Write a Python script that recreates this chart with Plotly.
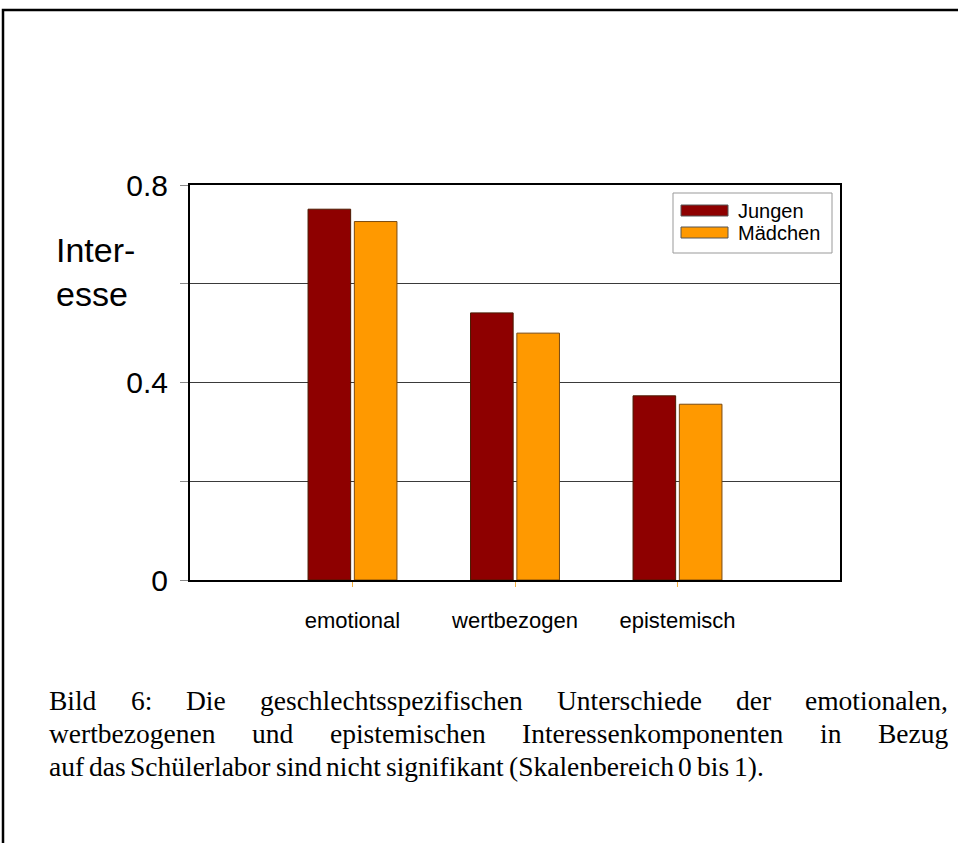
import plotly.graph_objects as go

categories = ["emotional", "wertbezogen", "epistemisch"]
jungen = [0.751, 0.541, 0.373]
maedchen = [0.726, 0.500, 0.356]
series_names = ["Jungen", "Mädchen"]
y_tickvals = [0, 0.2, 0.4, 0.6, 0.8]
y_ticktext = ["0", "", "0.4", "", "0.8"]
y_title_lines = ["Inter-", "esse"]
caption_lines = [
    "Bild 6: Die geschlechtsspezifischen Unterschiede der emotionalen,",
    "wertbezogenen und epistemischen Interessenkomponenten in Bezug",
    "auf das Schülerlabor sind nicht signifikant (Skalenbereich 0 bis 1).",
]

W, H = 958, 843
L, R, T, B = 190, 840, 185, 580

def px(x):
    return (x - L) / (R - L)

def py(y):
    return (B - y) / (B - T)

col_j = "#8e0000"
col_m = "#ff9900"
sans = "Liberation Sans, Arial, sans-serif"

fig = go.Figure()
fig.add_trace(go.Bar(x=categories, y=jungen, name=series_names[0],
                     marker=dict(color=col_j, line=dict(color="#4a1a00", width=1)),
                     showlegend=False))
fig.add_trace(go.Bar(x=categories, y=maedchen, name=series_names[1],
                     marker=dict(color=col_m, line=dict(color="#7a4a10", width=1)),
                     showlegend=False))

fig.update_layout(
    width=W, height=H,
    margin=dict(l=L, r=W - R, t=T, b=H - B),
    paper_bgcolor="white", plot_bgcolor="white",
    barmode="group", bargap=0.43, bargroupgap=0.08,
    font=dict(family=sans, color="black"),
)
fig.update_xaxes(type="category", range=[-1, 3], showline=True, linecolor="black",
                 linewidth=2, mirror=True, ticks="outside", ticklen=5,
                 tickcolor="#f5b040", tickwidth=1, showgrid=False,
                 tickfont=dict(size=22, family=sans),
                 ticklabelstandoff=15)
fig.update_yaxes(range=[0, 0.8], tickvals=y_tickvals, ticktext=y_ticktext,
                 showline=True, linecolor="black", linewidth=2, mirror=True,
                 ticks="outside", ticklen=8, tickcolor="#888888", tickwidth=1,
                 showgrid=True, gridcolor="#3a3a3a", gridwidth=1, zeroline=False,
                 tickfont=dict(size=30, family=sans),
                 ticklabelstandoff=6)

annotations = []
shapes = []

# y-axis title (horizontal)
annotations.append(dict(text="<br>".join(y_title_lines), x=px(54), y=py(272),
                        xref="paper", yref="paper", xanchor="left", yanchor="middle",
                        align="left", showarrow=False,
                        font=dict(size=34, family=sans)))

# custom legend
shapes.append(dict(type="rect", xref="paper", yref="paper", x0=px(673), x1=px(832),
                   y0=py(253), y1=py(193), line=dict(color="#999999", width=1),
                   fillcolor="white"))
for i, (nm, c) in enumerate(zip(series_names, [col_j, col_m])):
    yc = 211 + i * 22
    shapes.append(dict(type="rect", xref="paper", yref="paper", x0=px(681), x1=px(728),
                       y0=py(yc + 5), y1=py(yc - 6), fillcolor=c,
                       line=dict(color="#555555", width=1)))
    annotations.append(dict(text=nm, x=px(736), y=py(yc), xref="paper", yref="paper",
                            xanchor="left", yanchor="middle", showarrow=False,
                            font=dict(size=20, family=sans)))

# outer frame
shapes.append(dict(type="path", xref="paper", yref="paper",
                   path=f"M {px(3)},{py(850)} L {px(3)},{py(10)} L {px(965)},{py(10)}",
                   line=dict(color="black", width=2.5)))

# caption with justified lines (Times metrics)
tw = {' ': 250, 'a': 444, 'b': 500, 'c': 444, 'd': 500, 'e': 444, 'f': 333, 'g': 500,
      'h': 500, 'i': 278, 'j': 278, 'k': 500, 'l': 278, 'm': 778, 'n': 500, 'o': 500,
      'p': 500, 'q': 500, 'r': 333, 's': 389, 't': 278, 'u': 500, 'v': 500, 'w': 722,
      'x': 500, 'y': 500, 'z': 444, 'B': 667, 'D': 722, 'I': 333, 'S': 556, 'U': 722,
      ':': 278, ',': 250, '.': 250, '(': 333, ')': 333, 'ü': 500, 'ä': 444}
CAP_FS = 27.5
cap_font = dict(size=CAP_FS, family="Liberation Serif, Times New Roman, serif", color="black")

def wpx(word):
    return sum(tw.get(ch, 500) for ch in word) * CAP_FS / 1000

cap_left, cap_right = 48, 947
line_y = [700, 733, 766]
for li, line in enumerate(caption_lines):
    words = line.split(" ")
    widths = [wpx(w) for w in words]
    if li < len(caption_lines) - 1:
        gap = (cap_right - cap_left - sum(widths)) / (len(words) - 1)
    else:
        gap = tw[' '] * CAP_FS / 1000 * 0.7
    xpos = cap_left
    for w, wd in zip(words, widths):
        annotations.append(dict(text=w, x=px(xpos), y=py(line_y[li]), xref="paper",
                                yref="paper", xanchor="left", yanchor="middle",
                                showarrow=False, borderpad=0, font=cap_font))
        xpos += wd + gap

fig.update_layout(annotations=annotations, shapes=shapes)
fig.write_html("out.html", config={"displayModeBar": False},
               post_script="document.body.style.margin='0px';document.body.style.overflow='hidden';")
